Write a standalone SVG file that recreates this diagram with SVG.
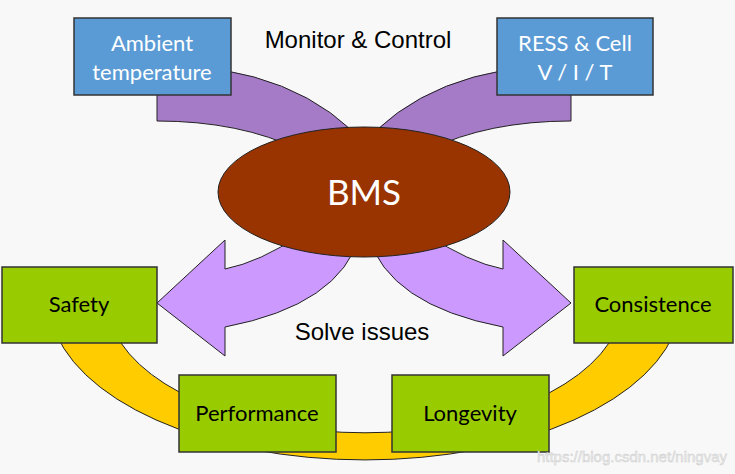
<svg xmlns="http://www.w3.org/2000/svg" width="735" height="474" viewBox="0 0 735 474">
<style>
.bg{fill:#f8f8f8}
.arc{fill:#a57bc8;stroke:#222;stroke-width:1}
.arw{fill:#cc99ff;stroke:#222;stroke-width:1}
.ring{fill:#ffcc00;stroke:#222;stroke-width:1}
.blue{fill:#5b9bd5;stroke:#333;stroke-width:1.5}
.green{fill:#99cc00;stroke:#333;stroke-width:1.5}
.wt{font-family:Lato,"Open Sans",sans-serif;font-size:22px;fill:#fff;text-anchor:middle}
.bt{font-family:Lato,"Open Sans",sans-serif;font-size:22px;fill:#000;text-anchor:middle}
.lbl{font-family:"Liberation Sans",Arial,sans-serif;font-size:24px;fill:#000;text-anchor:middle}
</style>
<rect class="bg" x="0" y="0" width="735" height="474"/>
<g id="connectors">
<path class="ring" d="M 51.5 320 A 316 160 0 0 0 678.5 320 L 620 320 A 258 133 0 0 1 110 320 Z"/>
<path class="arc" d="M 157 65 Q 300 65 370 150 L 300 150 Q 240 121 157 121 Z"/>
<path class="arc" d="M 571 65 Q 428 65 358 150 L 428 150 Q 488 121 571 121 Z"/>
<path class="arw" d="M 360 235 Q 340 305 225 327 L 225 356 L 157 303 L 225 240 L 225 269 Q 260 262 300 235 Z"/>
<path class="arw" d="M 368 235 Q 388 305 503 327 L 503 356 L 571 303 L 503 240 L 503 269 Q 468 262 428 235 Z"/>
</g>
<g id="bms">
<ellipse cx="364" cy="192" rx="146" ry="65" fill="#993300" stroke="#222" stroke-width="1"/>
<text x="364" y="205" font-family="Lato,'Open Sans',sans-serif" font-size="35" fill="#fff" text-anchor="middle">BMS</text>
</g>
<g id="ambient">
<rect class="blue" x="74" y="18" width="157" height="77"/>
<text class="wt" x="152" y="51">Ambient</text>
<text class="wt" x="152" y="80">temperature</text>
</g>
<g id="ress">
<rect class="blue" x="497" y="18" width="156" height="77"/>
<text class="wt" x="575" y="51">RESS &amp; Cell</text>
<text class="wt" x="575" y="80">V / I / T</text>
</g>
<g id="safety">
<rect class="green" x="2" y="267" width="155" height="76"/>
<text class="bt" x="79" y="312">Safety</text>
</g>
<g id="consistence">
<rect class="green" x="574" y="267" width="159" height="76"/>
<text class="bt" x="653" y="312">Consistence</text>
</g>
<g id="performance">
<rect class="green" x="179" y="375" width="157" height="77"/>
<text class="bt" x="257" y="421">Performance</text>
</g>
<g id="longevity">
<rect class="green" x="392" y="375" width="157" height="77"/>
<text class="bt" x="470" y="421">Longevity</text>
</g>
<text class="lbl" x="358" y="48">Monitor &amp; Control</text>
<text class="lbl" x="362" y="340">Solve issues</text>
<text x="727" y="462" font-family="'Liberation Sans',Arial,sans-serif" font-size="15" fill="#ececec" stroke="#c8c8c8" stroke-width="0.4" text-anchor="end">https://blog.csdn.net/ningvay</text>
</svg>
